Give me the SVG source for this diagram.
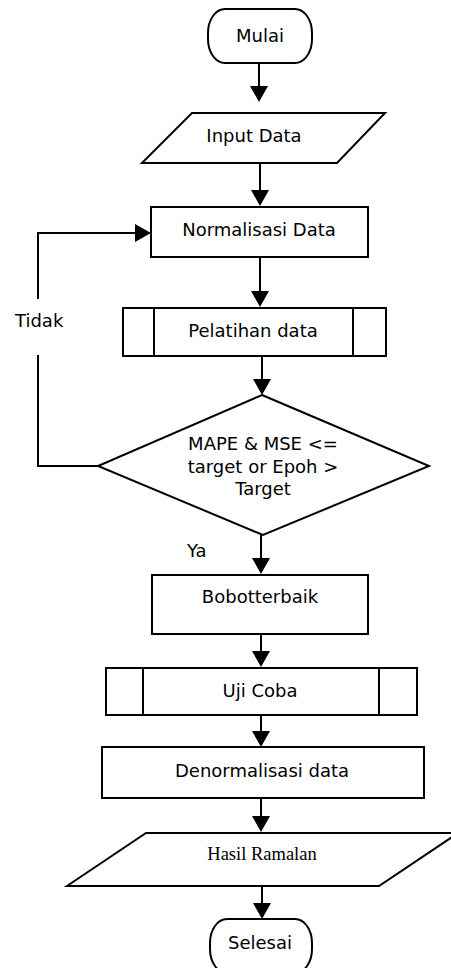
<svg xmlns="http://www.w3.org/2000/svg" width="451" height="968" viewBox="0 0 451 968">
<style>
.s{fill:#fff;stroke:#000;stroke-width:2}
.c{fill:none;stroke:#000;stroke-width:2}
.t{font-family:"DejaVu Sans",Verdana,sans-serif;font-size:18px;fill:#000;text-anchor:middle}
.l{font-family:"DejaVu Sans",Verdana,sans-serif;font-size:18px;fill:#000}
.r{font-family:"Liberation Serif","Times New Roman",serif;font-size:18.5px;fill:#000;text-anchor:middle}
</style>
<defs>
<marker id="ah" markerUnits="userSpaceOnUse" markerWidth="16" markerHeight="18" refX="12" refY="9" orient="auto" viewBox="0 0 16 18">
<path d="M0,0 L16,9 L0,18 Z" fill="#000"/>
</marker>
</defs>
<rect width="451" height="968" fill="#fff"/>
<g id="connectors">
<line class="c" x1="259" y1="63" x2="259" y2="98" marker-end="url(#ah)"/>
<line class="c" x1="260" y1="163" x2="260" y2="202" marker-end="url(#ah)"/>
<line class="c" x1="260" y1="257" x2="260" y2="303" marker-end="url(#ah)"/>
<line class="c" x1="262" y1="356" x2="262" y2="391" marker-end="url(#ah)"/>
<line class="c" x1="261" y1="535" x2="261" y2="570" marker-end="url(#ah)"/>
<line class="c" x1="261" y1="634" x2="261" y2="663" marker-end="url(#ah)"/>
<line class="c" x1="261" y1="715" x2="261" y2="743" marker-end="url(#ah)"/>
<line class="c" x1="261" y1="798" x2="261" y2="828" marker-end="url(#ah)"/>
<line class="c" x1="262" y1="886" x2="262" y2="915" marker-end="url(#ah)"/>
<polyline class="c" points="98,466 38,466 38,355"/>
<polyline class="c" points="38,299 38,233 147,233" marker-end="url(#ah)"/>
<text class="l" x="15" y="327">Tidak</text>
<text class="l" x="187" y="557">Ya</text>
</g>
<g id="mulai">
<rect class="s" x="208" y="9" width="104" height="54" rx="17" ry="24"/>
<text class="t" x="260" y="42">Mulai</text>
</g>
<g id="input">
<polygon class="s" points="192,113 385,113 337,163 142,163"/>
<text class="t" x="254" y="142">Input Data</text>
</g>
<g id="normalisasi">
<rect class="s" x="151" y="207" width="217" height="50"/>
<text class="t" x="259" y="236">Normalisasi Data</text>
</g>
<g id="pelatihan">
<rect class="s" x="123" y="308" width="263" height="48"/>
<line class="c" x1="154" y1="308" x2="154" y2="356"/>
<line class="c" x1="353" y1="308" x2="353" y2="356"/>
<text class="t" x="253" y="337">Pelatihan data</text>
</g>
<g id="decision">
<polygon class="s" points="262,395 429,466 263,535 98,466"/>
<text class="t" x="263" y="450">MAPE &amp; MSE &lt;=</text>
<text class="t" x="263" y="473">target or Epoh &gt;</text>
<text class="t" x="263" y="495">Target</text>
</g>
<g id="bobot">
<rect class="s" x="152" y="575" width="216" height="59"/>
<text class="t" x="260" y="603">Bobotterbaik</text>
</g>
<g id="ujicoba">
<rect class="s" x="106" y="668" width="311" height="47"/>
<line class="c" x1="143" y1="668" x2="143" y2="715"/>
<line class="c" x1="379" y1="668" x2="379" y2="715"/>
<text class="t" x="260" y="697">Uji Coba</text>
</g>
<g id="denormalisasi">
<rect class="s" x="102" y="747" width="322" height="51"/>
<text class="t" x="262" y="777">Denormalisasi data</text>
</g>
<g id="hasil">
<polygon class="s" points="67,886 146,833 458,833 379,886"/>
<text class="r" x="262" y="860">Hasil Ramalan</text>
</g>
<g id="selesai">
<rect class="s" x="210" y="919" width="102" height="54" rx="17" ry="24"/>
<text class="t" x="260" y="949">Selesai</text>
</g>
</svg>
